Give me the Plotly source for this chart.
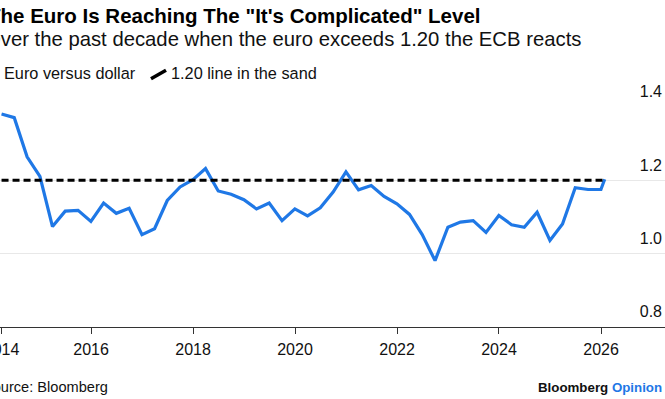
import plotly.graph_objects as go

# ---------------- data ----------------
DATES = [
    "2014-03-31", "2014-06-30", "2014-09-30", "2014-12-31",
    "2015-03-31", "2015-06-30", "2015-09-30", "2015-12-31",
    "2016-03-31", "2016-06-30", "2016-09-30", "2016-12-31",
    "2017-03-31", "2017-06-30", "2017-09-30", "2017-12-31",
    "2018-03-31", "2018-06-30", "2018-09-30", "2018-12-31",
    "2019-03-31", "2019-06-30", "2019-09-30", "2019-12-31",
    "2020-03-31", "2020-06-30", "2020-09-30", "2020-12-31",
    "2021-03-31", "2021-06-30", "2021-09-30", "2021-12-31",
    "2022-03-31", "2022-06-30", "2022-09-30", "2022-12-31",
    "2023-03-31", "2023-06-30", "2023-09-30", "2023-12-31",
    "2024-03-31", "2024-06-30", "2024-09-30", "2024-12-31",
    "2025-03-31", "2025-06-30", "2025-09-30", "2025-12-31",
    "2026-01-27",
]
EURUSD = [
    1.381, 1.371, 1.264, 1.211,
    1.074, 1.116, 1.118, 1.088,
    1.138, 1.110, 1.124, 1.052,
    1.068, 1.145, 1.182, 1.202,
    1.232, 1.171, 1.162, 1.147,
    1.122, 1.138, 1.090, 1.122,
    1.103, 1.125, 1.168, 1.223,
    1.174, 1.186, 1.156, 1.136,
    1.107, 1.052, 0.981, 1.072,
    1.086, 1.090, 1.058, 1.104,
    1.079, 1.072, 1.113, 1.036,
    1.081, 1.180, 1.175, 1.175,
    1.203,
]
LINE_LEVEL = 1.20
SERIES_NAMES = ["Euro versus dollar", "1.20 line in the sand"]

X_TICK_DATES = ["2014-03-31", "2016-01-01", "2018-01-01", "2020-01-01",
                "2022-01-01", "2024-01-01", "2026-01-01"]
X_TICK_LABELS = ["2014", "2016", "2018", "2020", "2022", "2024", "2026"]
Y_TICKS = [0.8, 1.0, 1.2, 1.4]
Y_TICK_LABELS = ["0.8", "1.0", "1.2", "1.4"]

TITLE = "The Euro Is Reaching The \"It's Complicated\" Level"
SUBTITLE = "Over the past decade when the euro exceeds 1.20 the ECB reacts"
SOURCE = "Source: Bloomberg"

# ---------------- styling ----------------
FONT = "Liberation Sans, Arial, Helvetica, sans-serif"
BLUE = "#1f78e6"
W, H = 665, 399
ML, MR, MT, MB = 0, 0, 106.7, 72.3
PW = W - ML - MR
PH = H - MT - MB


def px(xp):
    return (xp - ML) / PW


def py(yp):
    return (H - MB - yp) / PH


fig = go.Figure()
fig.add_trace(go.Scatter(
    x=DATES, y=EURUSD, mode="lines", name=SERIES_NAMES[0],
    line=dict(color=BLUE, width=3.2), hoverinfo="skip",
))
fig.add_trace(go.Scatter(
    x=[DATES[0], DATES[-1]], y=[LINE_LEVEL, LINE_LEVEL], mode="lines",
    name=SERIES_NAMES[1],
    line=dict(color="#000000", width=3, dash="7px,4px"), hoverinfo="skip",
))

annotations = [
    dict(text="<b>" + TITLE + "</b>", x=px(-14.5), y=py(15), xanchor="left",
         yanchor="middle", font=dict(size=20.5, color="#000000")),
    dict(text=SUBTITLE, x=px(-17), y=py(39), xanchor="left", yanchor="middle",
         font=dict(size=20.3, color="#111111")),
    dict(text=SERIES_NAMES[0], x=px(1.5), y=py(72.5), xanchor="left",
         yanchor="middle", font=dict(size=16.3, color="#111111")),
    dict(text=SERIES_NAMES[1], x=px(168.5), y=py(72.5), xanchor="left",
         yanchor="middle", font=dict(size=16.3, color="#111111")),
    dict(text=SOURCE, x=px(-19.5), y=py(387), xanchor="left", yanchor="middle",
         font=dict(size=14.6, color="#111111")),
    dict(text="<b>Bloomberg <span style='color:" + BLUE + "'>Opinion</span></b>",
         x=px(663.5), y=py(387), xanchor="right", yanchor="middle",
         font=dict(size=13.3, color="#111111")),
]
for a in annotations:
    a.update(xref="paper", yref="paper", showarrow=False, font_family=FONT)

shapes = [
    # legend icon for the blue series (sits off the visible canvas)
    dict(type="line", xref="paper", yref="paper", x0=px(-14), y0=py(78),
         x1=px(-2), y1=py(70), line=dict(color=BLUE, width=3.5)),
    # legend icon for the dashed line
    dict(type="line", xref="paper", yref="paper", x0=px(151), y0=py(78.5),
         x1=px(166), y1=py(70), line=dict(color="#000000", width=3.5)),
]

fig.update_layout(
    width=W, height=H,
    margin=dict(l=ML, r=MR, t=MT, b=MB, pad=0, autoexpand=False),
    paper_bgcolor="#ffffff", plot_bgcolor="#ffffff",
    showlegend=False,
    font=dict(family=FONT, size=16, color="#111111"),
    annotations=annotations,
    shapes=shapes,
    xaxis=dict(
        type="date", range=["2014-03-20", "2027-04-04"],
        tickmode="array", tickvals=X_TICK_DATES, ticktext=X_TICK_LABELS,
        ticklabeloverflow="allow", automargin=False, ticklabelstandoff=2,
        showgrid=False, zeroline=False,
        showline=True, linecolor="#333333", linewidth=1.2,
        ticks="outside", ticklen=6, tickwidth=1.2, tickcolor="#333333",
        tickfont=dict(size=16, color="#111111"),
        fixedrange=True,
    ),
    yaxis=dict(
        range=[0.8, 1.4], side="right",
        tickmode="array", tickvals=Y_TICKS, ticktext=Y_TICK_LABELS,
        ticklabelposition="inside top", ticklabeloverflow="allow",
        ticklabelshift=-4, automargin=False,
        showgrid=True, gridcolor="#e8e8e8", gridwidth=1.2,
        zeroline=False, showline=False, ticks="",
        tickfont=dict(size=16, color="#111111"),
        fixedrange=True,
    ),
)

fig.write_html(
    "out.html",
    config={"displayModeBar": False},
    post_script="document.body.style.margin='0';document.body.style.overflow='hidden';",
)
